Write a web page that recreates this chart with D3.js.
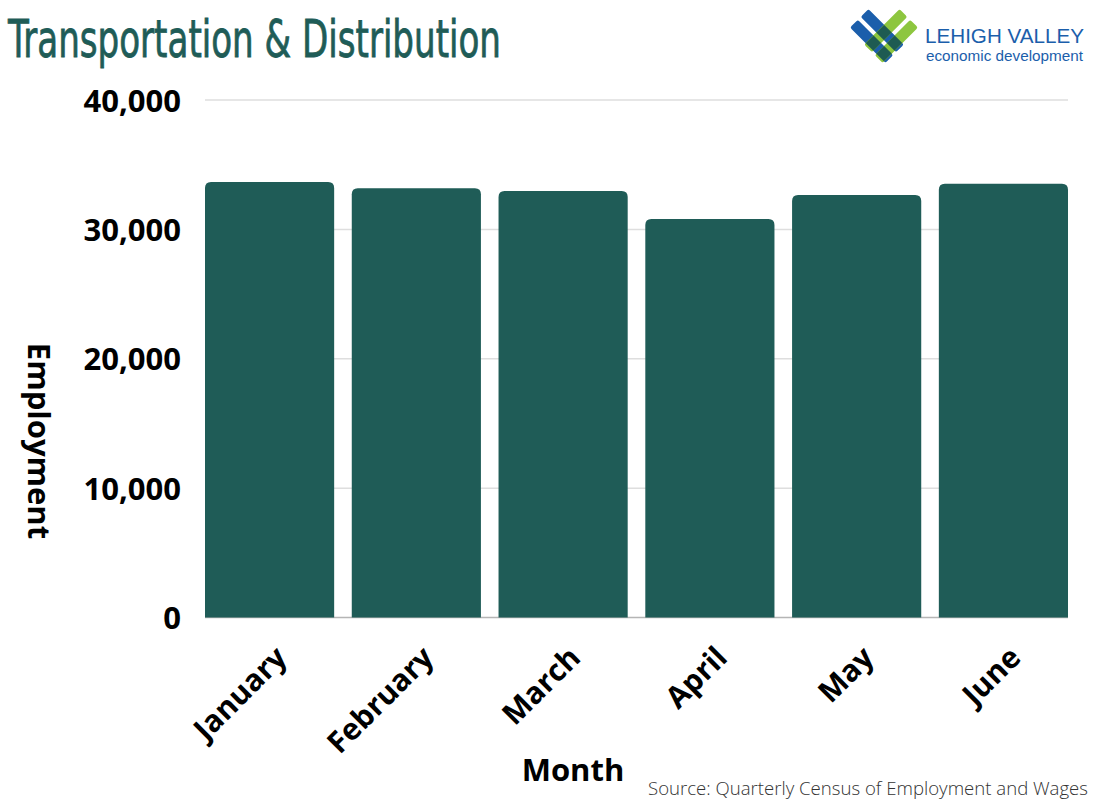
<!DOCTYPE html>
<html>
<head>
<meta charset="utf-8">
<script src="https://cdn.jsdelivr.net/npm/d3@7"></script>
<style>
  body { margin: 0; background: #fff; }
  svg { display: block; }
</style>
</head>
<body>
<svg id="chart" width="1100" height="800"></svg>
<script>
// data
var months = ['January', 'February', 'March', 'April', 'May', 'June'];
var employment = [33660, 33170, 32960, 30800, 32650, 33520];
var yTicks = [0, 10000, 20000, 30000, 40000];

var barColor = '#1f5c57';
var svg = d3.select('#chart');

var x = d3.scaleBand()
    .domain(months)
    .range([205, 1068])
    .paddingInner(0.12)
    .paddingOuter(0);

var y = d3.scaleLinear()
    .domain([0, 40000])
    .range([617.5, 100]);

// grid lines
svg.append('g')
    .selectAll('line')
    .data(yTicks)
    .join('line')
    .attr('x1', 205)
    .attr('x2', 1068)
    .attr('y1', function(d){ return y(d); })
    .attr('y2', function(d){ return y(d); })
    .style('stroke', function(d){ return d == 0 ? '#b5b5b5' : '#dedede'; })
    .style('stroke-width', 1.5);

// y axis labels
var yAxis = d3.axisLeft(y)
    .tickValues(yTicks)
    .tickSize(0)
    .tickPadding(0)
    .tickFormat(d3.format(','));
svg.append('g')
    .attr('transform', 'translate(181,0)')
    .call(yAxis)
    .call(function(g){ g.select('.domain').remove(); })
    .selectAll('text')
    .attr('dy', '0.36em')
    .style('font-family', '"Open Sans", sans-serif')
    .style('font-weight', 700)
    .style('font-size', '31px')
    .style('fill', '#000');

// bars with rounded tops
function barPath(d, i){
    var x0 = x(months[i]), w = x.bandwidth();
    var top = y(d), base = y(0), r = 6;
    return 'M' + x0 + ',' + base +
        'V' + (top + r) +
        'Q' + x0 + ',' + top + ' ' + (x0 + r) + ',' + top +
        'H' + (x0 + w - r) +
        'Q' + (x0 + w) + ',' + top + ' ' + (x0 + w) + ',' + (top + r) +
        'V' + base + 'Z';
}
svg.append('g')
    .selectAll('path')
    .data(employment)
    .join('path')
    .attr('d', barPath)
    .style('fill', barColor);

// x axis labels, rotated
var xAxis = d3.axisBottom(x).tickSize(0).tickPadding(0);
svg.append('g')
    .attr('transform', 'translate(0,' + y(0) + ')')
    .call(xAxis)
    .call(function(g){ g.select('.domain').remove(); })
    .selectAll('text')
    .attr('text-anchor', 'end')
    .attr('transform', 'translate(19,42) rotate(-45)')
    .attr('dy', 0)
    .attr('y', 0)
    .style('font-family', '"Open Sans", sans-serif')
    .style('font-weight', 700)
    .style('font-size', '30px')
    .style('fill', '#000');

// axis titles
svg.append('text')
    .attr('transform', 'translate(28,441) rotate(90)')
    .attr('text-anchor', 'middle')
    .style('font-family', '"Open Sans", sans-serif')
    .style('font-weight', 700)
    .style('font-size', '31px')
    .text('Employment');

svg.append('text')
    .attr('x', 573)
    .attr('y', 781)
    .attr('text-anchor', 'middle')
    .style('font-family', '"Open Sans", sans-serif')
    .style('font-weight', 700)
    .style('font-size', '31px')
    .text('Month');

svg.append('text')
    .attr('x', 1088)
    .attr('y', 795)
    .attr('text-anchor', 'end')
    .attr('textLength', 440)
    .attr('lengthAdjust', 'spacingAndGlyphs')
    .style('font-family', '"Open Sans", sans-serif')
    .style('font-weight', 300)
    .style('font-size', '18px')
    .style('fill', '#333')
    .text('Source: Quarterly Census of Employment and Wages');

// title
svg.append('text')
    .attr('x', 8)
    .attr('y', 57)
    .attr('textLength', 493)
    .attr('lengthAdjust', 'spacingAndGlyphs')
    .style('font-family', '"Liberation Sans Narrow", "DejaVu Sans Condensed", sans-serif')
    .style('font-size', '51px')
    .style('fill', barColor)
    .style('stroke', barColor)
    .style('stroke-width', 0.8)
    .text('Transportation & Distribution');

// logo
var blueStrips = [[-30, -8], [-30, 7]];
var greenStrips = [[-8, -30], [7, -30]];
var defs = svg.append('defs');
defs.append('clipPath').attr('id', 'greenClip')
    .selectAll('rect')
    .data(greenStrips)
    .join('rect')
    .attr('x', function(d){ return d[0]; })
    .attr('y', function(d){ return d[1]; })
    .attr('width', 11)
    .attr('height', 50)
    .attr('rx', 2);

var logo = svg.append('g').attr('transform', 'translate(884,36) rotate(45)');
logo.selectAll('.blue')
    .data(blueStrips)
    .join('rect')
    .attr('class', 'blue')
    .attr('x', function(d){ return d[0]; })
    .attr('y', function(d){ return d[1]; })
    .attr('width', 50)
    .attr('height', 11)
    .attr('rx', 2)
    .style('fill', '#1b5eab');
logo.selectAll('.green')
    .data(greenStrips)
    .join('rect')
    .attr('class', 'green')
    .attr('x', function(d){ return d[0]; })
    .attr('y', function(d){ return d[1]; })
    .attr('width', 11)
    .attr('height', 50)
    .attr('rx', 2)
    .style('fill', '#8dc63f');
logo.append('g')
    .attr('clip-path', 'url(#greenClip)')
    .selectAll('rect')
    .data(blueStrips)
    .join('rect')
    .attr('x', function(d){ return d[0]; })
    .attr('y', function(d){ return d[1]; })
    .attr('width', 50)
    .attr('height', 11)
    .style('fill', '#1e5b52');

svg.append('text')
    .attr('x', 925)
    .attr('y', 43)
    .attr('textLength', 159)
    .attr('lengthAdjust', 'spacingAndGlyphs')
    .style('font-family', '"Liberation Sans", sans-serif')
    .style('font-size', '21px')
    .style('fill', '#1b5eab')
    .text('LEHIGH VALLEY');
svg.append('text')
    .attr('x', 926)
    .attr('y', 60.5)
    .attr('textLength', 157)
    .attr('lengthAdjust', 'spacingAndGlyphs')
    .style('font-family', '"Liberation Sans", sans-serif')
    .style('font-size', '14px')
    .style('fill', '#1b5eab')
    .text('economic development');
</script>
</body>
</html>
